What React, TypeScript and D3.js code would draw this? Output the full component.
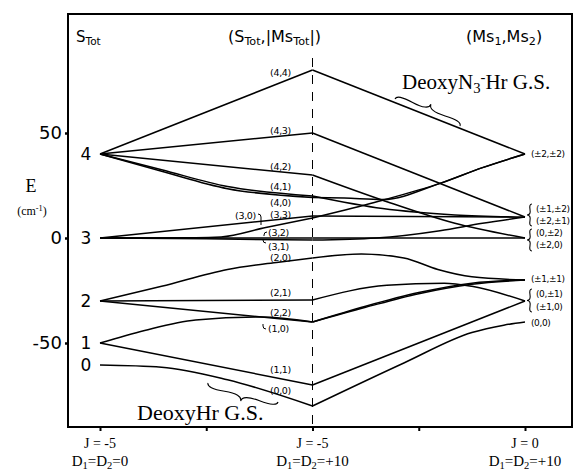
import React, { useRef, useEffect } from 'react';
import * as d3 from 'd3';

// x positions: 0 = J=-5, D=0 ; 1 = J=-5, D=+10 ; 2 = J=0, D=+10
const xTicks = [0, 0.5, 1, 1.5, 2];
const xLabelTop = ['J = -5', 'J = -5', 'J = 0'];
const xLabelD = ['0', '+10', '+10'];
const yTicks = [-50, 0, 50];

const sTotNames = ['4', '3', '2', '1', '0'];
const sTotEnergies = [40, 0, -30, -50, -60.5];

// energy levels [position, E (cm-1)]
const lvl44 = [[0, 40], [1, 80], [2, 40]];
const lvl43 = [[0, 40], [1, 50], [2, 10]];
const lvl42 = [[0, 40], [1, 30], [1.33, 18], [1.67, 7], [2, 0]];
const lvl41 = [[0, 40], [0.29, 32.5], [0.6, 24.5], [1, 20], [1.33, 14], [1.67, 11], [2, 10]];
const lvl40 = [[0, 40], [0.29, 31.8], [0.6, 23.5], [1, 19.3], [1.15, 19], [1.33, 18.3], [1.6, 26], [1.8, 33.5], [2, 40]];
const lvl33 = [[0, 0], [1, 10.5], [2, 10]];
const lvl32 = [[0, 0], [1, 0], [2, 0]];
const lvl31 = [[0, 0], [0.5, -0.4], [1, -1], [1.3, 0], [1.6, 3.5], [1.8, 7], [2, 10]];
const lvl30 = [[0, 0], [0.45, 0.1], [0.57, 0.5], [0.78, 5], [1, 9.5], [1.12, 12.5], [1.33, 18], [1.6, 26], [1.8, 33.5], [2, 40]];
const lvl20 = [[0, -30], [0.29, -23], [0.6, -15], [0.84, -11.5], [1, -9.5], [1.23, -7.6], [1.43, -9.5], [1.59, -15], [1.75, -18.5], [2, -20]];
const lvl21 = [[0, -30], [1, -29.5], [1.35, -22.5], [1.62, -21.5], [1.75, -23], [2, -30]];
const lvl22 = [[0, -30], [1, -40], [1.25, -33], [1.5, -26.5], [1.75, -22], [2, -20]];
const lvl10 = [[0, -50], [0.21, -44], [0.45, -39], [0.76, -37.6], [1, -40], [1.25, -32.5], [1.5, -26], [1.75, -21.5], [2, -20]];
const lvl11 = [[0, -50], [1, -70], [2, -30]];
const lvl00 = [[0, -60.5], [0.29, -61.5], [0.6, -67.5], [1, -80], [1.43, -59.5], [1.75, -45], [1.9, -41.5], [2, -40]];

const levels = [lvl44, lvl43, lvl42, lvl41, lvl40, lvl33, lvl32, lvl31, lvl30, lvl20, lvl21, lvl22, lvl10, lvl11, lvl00];
const levelNames = ['(4,4)', '(4,3)', '(4,2)', '(4,1)', '(4,0)', '(3,3)', '(3,2)', '(3,1)', '(3,0)', '(2,0)', '(2,1)', '(2,2)', '(1,0)', '(1,1)', '(0,0)'];

const msNames = ['(±2,±2)', '(±1,±2)', '(±2,±1)', '(0,±2)', '(±2,0)', '(±1,±1)', '(0,±1)', '(±1,0)', '(0,0)'];

export default function App() {
  const svgRef = useRef<SVGSVGElement>(null);

  useEffect(() => {
    document.body.style.margin = '0';
    const svg = d3.select(svgRef.current);
    svg.selectAll('*').remove();

    const frame = { left: 68, top: 14, right: 572, bottom: 427 };
    const sans = "'DejaVu Sans', sans-serif";
    const serif = "'Liberation Serif', 'DejaVu Serif', serif";

    const x = d3.scaleLinear().domain([0, 2]).range([100, 525]);
    const y = d3.scaleLinear().domain([-50, 50]).range([343, 133]);

    // frame
    svg.append('rect')
      .attr('x', frame.left).attr('y', frame.top)
      .attr('width', frame.right - frame.left).attr('height', frame.bottom - frame.top)
      .attr('fill', 'none').attr('stroke', '#000').attr('stroke-width', 2);

    // y axis
    const yAxis = svg.append('g')
      .attr('transform', `translate(${frame.left},0)`)
      .call(d3.axisLeft(y).tickValues(yTicks).tickSize(3).tickPadding(3).tickFormat(d => String(d)));
    yAxis.select('.domain').remove();
    yAxis.selectAll('line').attr('stroke', '#000').attr('stroke-width', 2.5);
    yAxis.selectAll('text').attr('font-family', sans).attr('font-size', 18).attr('fill', '#000');

    // x axis
    const xAxis = svg.append('g')
      .attr('transform', `translate(0,${frame.bottom})`)
      .call(d3.axisBottom(x).tickValues(xTicks).tickSize(4).tickFormat(() => ''));
    xAxis.select('.domain').remove();
    xAxis.selectAll('line').attr('stroke', '#000').attr('stroke-width', 2);

    // text with sub/superscripts: parts [text, 'sub' | 'sup' | '']
    const sub = (g, parts) => {
      parts.forEach(([t, k]) => {
        const ts = g.append('tspan').text(t);
        if (k === 'sub') ts.attr('font-size', '0.7em').attr('baseline-shift', '-25%');
        if (k === 'sup') ts.attr('font-size', '0.7em').attr('baseline-shift', '45%');
      });
    };

    // x labels
    [0, 1, 2].forEach((t, i) => {
      svg.append('text').attr('x', x(t)).attr('y', 448)
        .attr('text-anchor', 'middle').attr('font-family', serif).attr('font-size', 14)
        .text(xLabelTop[i]);
      const d = svg.append('text').attr('x', x(t)).attr('y', 466)
        .attr('text-anchor', 'middle').attr('font-family', serif).attr('font-size', 15);
      sub(d, [['D', ''], ['1', 'sub'], ['=D', ''], ['2', 'sub'], ['=' + xLabelD[i], '']]);
    });

    // axis title
    svg.append('text').attr('x', 31).attr('y', 192).attr('text-anchor', 'middle')
      .attr('font-family', serif).attr('font-size', 18).text('E');
    const cm = svg.append('text').attr('x', 32).attr('y', 215).attr('text-anchor', 'middle')
      .attr('font-family', serif).attr('font-size', 12);
    sub(cm, [['(cm', ''], ['-1', 'sup'], [')', '']]);

    // headers
    const h1 = svg.append('text').attr('x', 76).attr('y', 42).attr('font-family', sans).attr('font-size', 15);
    sub(h1, [['S', ''], ['Tot', 'sub']]);
    const h2 = svg.append('text').attr('x', 228).attr('y', 42).attr('font-family', sans).attr('font-size', 16);
    sub(h2, [['(S', ''], ['Tot', 'sub'], [',|Ms', ''], ['Tot', 'sub'], ['|)', '']]);
    const h3 = svg.append('text').attr('x', 466).attr('y', 42).attr('font-family', sans).attr('font-size', 16);
    sub(h3, [['(Ms', ''], ['1', 'sub'], [',Ms', ''], ['2', 'sub'], [')', '']]);

    // ground state annotations
    const g1 = svg.append('text').attr('x', 402).attr('y', 89).attr('font-family', serif).attr('font-size', 21);
    sub(g1, [['DeoxyN', ''], ['3', 'sub'], ['-', 'sup'], ['Hr G.S.', '']]);
    svg.append('text').attr('x', 137).attr('y', 420).attr('font-family', serif).attr('font-size', 22)
      .text('DeoxyHr G.S.');

    // braces
    const brace = (x1, y1, x2, y2, w, q = 0.6) => {
      let dx = x1 - x2, dy = y1 - y2;
      const len = Math.sqrt(dx * dx + dy * dy);
      dx /= len; dy /= len;
      const qx1 = x1 + q * w * dy, qy1 = y1 - q * w * dx;
      const qx2 = x1 - 0.25 * len * dx + (1 - q) * w * dy, qy2 = y1 - 0.25 * len * dy - (1 - q) * w * dx;
      const tx1 = x1 - 0.5 * len * dx + w * dy, ty1 = y1 - 0.5 * len * dy - w * dx;
      const qx3 = x2 + q * w * dy, qy3 = y2 - q * w * dx;
      const qx4 = x1 - 0.75 * len * dx + (1 - q) * w * dy, qy4 = y1 - 0.75 * len * dy - (1 - q) * w * dx;
      return `M${x1},${y1}Q${qx1},${qy1} ${qx2},${qy2}T${tx1},${ty1}M${x2},${y2}Q${qx3},${qy3} ${qx4},${qy4}T${tx1},${ty1}`;
    };
    const braces = [
      brace(395, 99, 460, 126, -9),
      brace(208, 383, 278, 402, 9),
      brace(532, 204, 532, 226, 5),
      brace(532, 229, 532, 251, 5),
      brace(532, 289, 532, 312, 5),
    ];
    svg.selectAll('.brace').data(braces).enter().append('path')
      .attr('class', 'brace').attr('d', d => d)
      .attr('fill', 'none').attr('stroke', '#000').attr('stroke-width', 1.1);

    // middle dashed line
    svg.append('line').attr('x1', x(1)).attr('x2', x(1)).attr('y1', 58).attr('y2', frame.bottom)
      .attr('stroke', '#000').attr('stroke-width', 1).attr('stroke-dasharray', '9,8');

    // S_tot labels at the left
    svg.selectAll('.stot').data(sTotNames).enter().append('text')
      .attr('class', 'stot')
      .attr('x', 86).attr('y', (d, i) => y(sTotEnergies[i]) + 6)
      .attr('text-anchor', 'middle').attr('font-family', sans).attr('font-size', 17)
      .text(d => d);

    // level curves, one piece each side of the middle
    const line = d3.line().x(d => x(d[0])).y(d => y(d[1])).curve(d3.curveMonotoneX);
    levels.forEach(lv => {
      const left = lv.filter(p => p[0] <= 1);
      const right = lv.filter(p => p[0] >= 1);
      [left, right].forEach(seg => {
        svg.append('path').attr('d', line(seg))
          .attr('fill', 'none').attr('stroke', '#000').attr('stroke-width', 1.5);
      });
    });

    // middle labels (S_tot,|Ms_tot|)
    const midPos = [
      [270, 76], [270, 134], [270, 170], [270, 190], [270, 206], [270, 218],
      [268, 236], [268, 250], [235, 219], [270, 261], [270, 296], [270, 316],
      [268, 332], [270, 373], [270, 394],
    ];
    svg.selectAll('.mid').data(levelNames).enter().append('text')
      .attr('class', 'mid')
      .attr('x', (d, i) => midPos[i][0]).attr('y', (d, i) => midPos[i][1])
      .attr('font-family', sans).attr('font-size', 9.5).attr('letter-spacing', -0.3)
      .text(d => d);

    // small pointers from labels to curves
    const hooks = [
      'M258,214 q3,0 3,3 v8',
      'M267,232 q-3,0 -3,3 v1',
      'M266,243 q-3,0 -3,-3 v-1',
      'M266,329 q-3,0 -3,-3 v-2',
    ];
    hooks.forEach(h => svg.append('path').attr('d', h).attr('fill', 'none').attr('stroke', '#000').attr('stroke-width', 1));

    // right labels (Ms1,Ms2)
    const rightY = [157, 212, 224, 236, 248, 282, 297, 310, 326];
    svg.selectAll('.ms').data(msNames).enter().append('text')
      .attr('class', 'ms')
      .attr('x', (d, i) => (i === 0 || i === 5 || i === 8 ? 531 : 536)).attr('y', (d, i) => rightY[i])
      .attr('font-family', sans).attr('font-size', 9).attr('letter-spacing', -0.4)
      .text(d => d);
  }, []);

  return <svg ref={svgRef} width={575} height={471} style={{ display: 'block', background: '#fff' }} />;
}
